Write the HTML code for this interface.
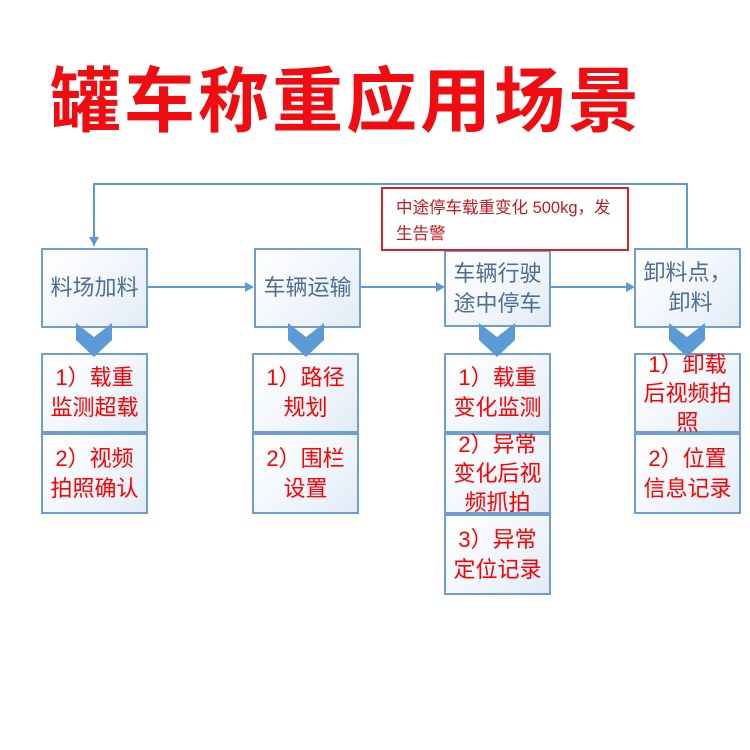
<!DOCTYPE html>
<html><head><meta charset="utf-8"><style>
body{margin:0;width:750px;height:750px;background:#fff;position:relative;overflow:hidden;font-family:"Liberation Sans","Noto Sans CJK SC",sans-serif}
.t{position:absolute;left:50px;top:58px;font-size:71px;font-weight:bold;color:#f00d12;letter-spacing:3px;white-space:nowrap;line-height:90px}
.b{position:absolute;box-sizing:border-box;border:2px solid #6f9fd0;background:linear-gradient(135deg,#ffffff 0%,#f3f7fc 50%,#e2ebf6 100%);display:flex;align-items:center;justify-content:center;text-align:center;font-size:22px;line-height:30px;white-space:nowrap}
.m{color:#4d6f95}
.s{color:#f00;}
svg{position:absolute;left:0;top:0}
</style></head><body>
<div class="t">罐车称重应用场景</div>
<svg width="750" height="750">
<g stroke="#5b9bd5" stroke-width="2" fill="none">
<polyline points="94,246 94,184 687,184 687,248"/>
<line x1="147" y1="287" x2="247" y2="287"/>
<line x1="360" y1="287" x2="438" y2="287"/>
<line x1="550" y1="287" x2="628" y2="287"/>
</g>
<g fill="#5b9bd5">
<polygon points="89,237 99,237 94,246"/>
<polygon points="245,282 245,292 254,287"/>
<polygon points="436,282 436,292 445,287"/>
<polygon points="626,282 626,292 635,287"/>
</g>
</svg>
<div class="b m" style="left:41px;top:248px;width:107px;height:80px">料场加料</div>
<div class="b m" style="left:254px;top:248px;width:107px;height:80px">车辆运输</div>
<div class="b m" style="left:444px;top:250px;width:107px;height:77px">车辆行驶<br>途中停车</div>
<div class="b m" style="left:634px;top:248px;width:107px;height:80px">卸料点，<br>&nbsp;卸料</div>
<div style="position:absolute;left:381px;top:187px;width:248px;height:64px;box-sizing:border-box;border:2px solid #d9232b;background:#fff;color:#c8191f;font-size:16.5px;line-height:26px;padding:6px 0 0 13px;white-space:nowrap">中途停车载重变化 500kg，发<br>生告警</div>
<div class="b s" style="left:41px;top:353px;width:107px;height:80px">1）载重<br>监测超载</div>
<div class="b s" style="left:41px;top:433px;width:107px;height:81px">2）视频<br>拍照确认</div>
<div class="b s" style="left:252px;top:353px;width:107px;height:80px">1）路径<br>规划</div>
<div class="b s" style="left:252px;top:433px;width:107px;height:81px">2）围栏<br>设置</div>
<div class="b s" style="left:444px;top:353px;width:107px;height:80px">1）载重<br>变化监测</div>
<div class="b s" style="left:444px;top:433px;width:107px;height:81px;line-height:29px">2）异常<br>变化后视<br>频抓拍</div>
<div class="b s" style="left:444px;top:514px;width:107px;height:81px">3）异常<br>定位记录</div>
<div class="b s" style="left:634px;top:353px;width:107px;height:80px;line-height:29px">1）卸载<br>后视频拍<br>照</div>
<div class="b s" style="left:634px;top:433px;width:107px;height:81px">2）位置<br>信息记录</div>
<svg width="750" height="750">
<g fill="#5b9bd5">
<polygon points="76,323 94,337 112,323 112,340 94,357 76,340"/>
<polygon points="288,323 306,337 324,323 324,340 306,357 288,340"/>
<polygon points="479,323 497,337 515,323 515,340 497,357 479,340"/>
<polygon points="669,323 687,337 705,323 705,340 687,357 669,340"/>
</g>
</svg>
</body></html>
